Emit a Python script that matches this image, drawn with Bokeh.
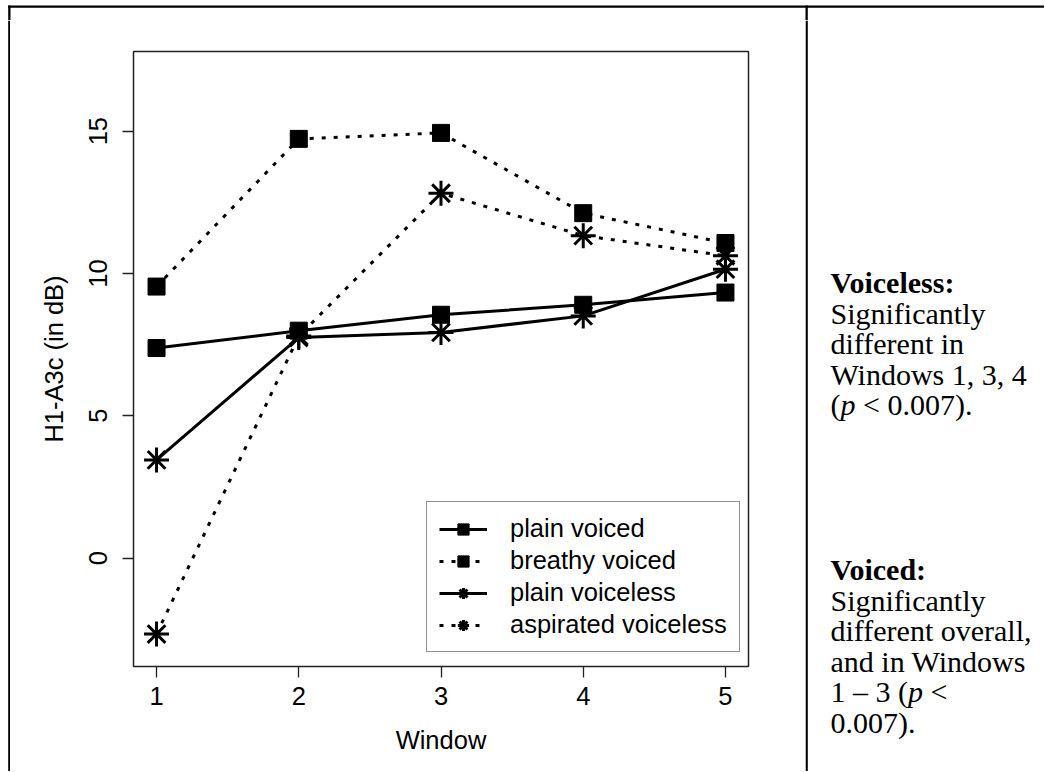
from bokeh.plotting import figure
from bokeh.layouts import row, column
from bokeh.models import Range1d, FixedTicker, Legend, LegendItem, Label
from bokeh.core.properties import value
from bokeh.embed import file_html
from bokeh.resources import INLINE

# ---------------- data ----------------
windows = [1, 2, 3, 4, 5]
plain_voiced = [7.38, 7.99, 8.55, 8.90, 9.33]
breathy_voiced = [9.54, 14.73, 14.94, 12.12, 11.07]
plain_voiceless = [3.45, 7.75, 7.93, 8.51, 10.15]
aspirated_voiceless = [-2.67, 7.80, 12.82, 11.33, 10.62]
series_names = ["plain voiced", "breathy voiced", "plain voiceless", "aspirated voiceless"]
y_ticks = [0, 5, 10, 15]
x_label = "Window"
y_label = "H1-A3c (in dB)"

# side note text: lines made of (text, style, x offset in px)
voiceless_note = [
    [("Voiceless:", "bold", 0)],
    [("Significantly", "normal", 0)],
    [("different in", "normal", 0)],
    [("Windows 1, 3, 4", "normal", 0)],
    [("(", "normal", 0), ("p", "italic", 10), ("< 0.007).", "normal", 32.5)],
]
voiced_note = [
    [("Voiced:", "bold", 0)],
    [("Significantly", "normal", 0)],
    [("different overall,", "normal", 0)],
    [("and in Windows", "normal", 0)],
    [("1 \u2013 3 (", "normal", 0), ("p", "italic", 77.5), ("<", "normal", 100)],
    [("0.007).", "normal", 0)],
]

SANS = "Liberation Sans"
SERIF = "Liberation Serif"
FS = "25.5px"

TOTAL_W, TOTAL_H = 1044, 771
TOP_H = 20
LEFT_W = 10
MAIN_W = 795
BODY_H = TOTAL_H - TOP_H
SIDE_W = TOTAL_W - LEFT_W - MAIN_W
RULE_Y0, RULE_Y1 = 5, 7.3          # top rule (page px)
RULE_X0, RULE_X1 = 7.7, 10          # left rule (page px)


def blank_fig(w, h):
    f = figure(width=w, height=h, output_backend="svg", toolbar_location=None,
               title=None,
               x_range=Range1d(0, w), y_range=Range1d(h, 0),
               x_axis_type=None, y_axis_type=None, frame_align=False,
               min_border=0, min_border_left=0, min_border_right=0,
               min_border_top=0, min_border_bottom=0)
    f.outline_line_color = None
    f.xgrid.visible = False
    f.ygrid.visible = False
    f.background_fill_color = "white"
    f.border_fill_color = "white"
    return f


# ---- top strip: table's top rule plus the start of the left rule and divider ----
top = blank_fig(TOTAL_W, TOP_H)
top.quad(left=[RULE_X0, RULE_X0, LEFT_W + MAIN_W],
         right=[TOTAL_W, RULE_X1, LEFT_W + MAIN_W + 2.3],
         top=[RULE_Y0, RULE_Y0, RULE_Y0],
         bottom=[RULE_Y1, TOP_H, TOP_H],
         fill_color="black", line_color=None)

# ---- left strip with the table's left rule ----
left = blank_fig(LEFT_W, BODY_H)
left.quad(left=[RULE_X0], right=[RULE_X1], top=[0], bottom=[BODY_H],
          fill_color="black", line_color=None)

# ---- main chart ----
p = figure(width=MAIN_W, height=BODY_H, output_backend="svg", toolbar_location=None,
           title=None,
           x_range=Range1d(0.838, 5.162), y_range=Range1d(-3.81, 17.80),
           min_border_left=123, min_border_right=57,
           min_border_top=51 - TOP_H, min_border_bottom=BODY_H - (51 - TOP_H) - 615,
           x_axis_label=x_label, y_axis_label=y_label, frame_align=False)
p.xgrid.visible = False
p.ygrid.visible = False
p.background_fill_color = "white"
p.border_fill_color = "white"
p.outline_line_color = "#222222"
p.outline_line_width = 1.5

for ax in (p.xaxis[0], p.yaxis[0]):
    ax.axis_line_color = None
    ax.major_tick_line_color = "#222222"
    ax.major_tick_line_width = 1.3
    ax.major_tick_out = 11
    ax.major_tick_in = 0
    ax.minor_tick_line_color = None
    ax.major_label_text_font = SANS
    ax.major_label_text_font_size = FS
    ax.major_label_text_color = "black"
    ax.axis_label_text_font = SANS
    ax.axis_label_text_font_size = FS
    ax.axis_label_text_font_style = "normal"
    ax.axis_label_text_color = "black"

p.xaxis.ticker = FixedTicker(ticks=windows)
p.yaxis.ticker = FixedTicker(ticks=y_ticks)
p.yaxis.major_label_orientation = "vertical"
p.xaxis.major_label_standoff = 9
p.xaxis.axis_label_standoff = 18
p.yaxis.major_label_standoff = 15
p.yaxis.axis_label_standoff = 19

series = [plain_voiced, breathy_voiced, plain_voiceless, aspirated_voiceless]
dashes = ["solid", "4 8", "solid", "4 8"]
markers = ["square", "square", "asterisk", "asterisk"]

items = []
for name, vals, dash, mk in zip(series_names, series, dashes, markers):
    lr = p.line(windows, vals, line_color="black", line_width=3, line_dash=dash)
    if mk == "square":
        sr = p.scatter(windows, vals, marker="square", size=17,
                       fill_color="black", line_color="black", line_width=1)
    else:
        sr = p.scatter(windows, vals, marker="asterisk", size=25,
                       line_color="black", line_width=3)
    items.append(LegendItem(label=value(name), renderers=[lr, sr]))

legend = Legend(items=items, location=(293, 14), orientation="vertical",
                label_text_font=SANS, label_text_font_size=FS, label_text_color="black",
                glyph_width=48, glyph_height=28, label_height=28, label_standoff=23,
                spacing=3, padding=12, margin=0,
                border_line_color="#222222", border_line_width=1.3,
                background_fill_color="white", background_fill_alpha=1)
p.add_layout(legend)

# ---- right-hand note panel ----
side = blank_fig(SIDE_W, BODY_H)
side.quad(left=[0], right=[2.3], top=[0], bottom=[BODY_H],
          fill_color="black", line_color=None)


def add_note(fig, lines, first_baseline, pitch=30.5, x0=25):
    for i, segs in enumerate(lines):
        base = first_baseline + i * pitch
        for txt, style, off in segs:
            fig.add_layout(Label(x=x0 + off, y=base, text=txt,
                                 text_font=SERIF, text_font_size="30px",
                                 text_font_style=style, text_color="black",
                                 text_baseline="alphabetic", text_align="left"))


# page baselines 282 / 569 (after empirical correction), minus the top strip
add_note(side, voiceless_note, 282 - TOP_H)
add_note(side, voiced_note, 569 - TOP_H)

layout = column(top, row(left, p, side, spacing=0), spacing=0)

open("out.html", "w").write(file_html(layout, INLINE))
